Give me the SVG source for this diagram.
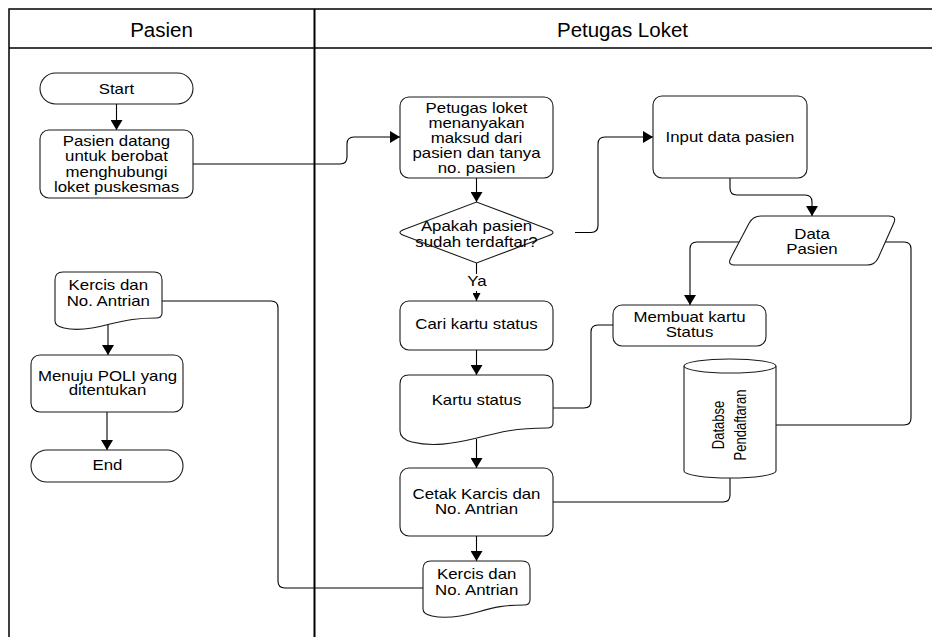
<svg xmlns="http://www.w3.org/2000/svg" width="932" height="637" viewBox="0 0 932 637">
<style>
.frame{fill:none;stroke:#000;stroke-width:1.5}
.div{fill:none;stroke:#000;stroke-width:2}
.shape{fill:#fff;stroke:#1a1a1a;stroke-width:1.1}
.conn{fill:none;stroke:#000;stroke-width:1.1}
.t{font-family:"Liberation Sans",Arial,sans-serif;font-size:14.5px;text-anchor:middle;fill:#000}
.h{font-family:"Liberation Sans",Arial,sans-serif;font-size:20.5px;text-anchor:middle;fill:#000}
.db{font-family:"Liberation Sans",Arial,sans-serif;font-size:13px;text-anchor:middle;fill:#000}
</style>
<defs>
<marker id="arr" viewBox="0 0 10 12" markerWidth="10" markerHeight="12" refX="10" refY="6" orient="auto" markerUnits="userSpaceOnUse"><path d="M0,0 L10,6 L0,12 Z" fill="#000"/></marker>
<marker id="arrs" viewBox="0 0 8 8" markerWidth="8" markerHeight="8" refX="8" refY="4" orient="auto" markerUnits="userSpaceOnUse"><path d="M0,0 L8,4 L0,8 Z" fill="#000"/></marker>
</defs>
<rect width="932" height="637" fill="#fff"/>
<g id="swimlanes">
<rect class="frame" x="9" y="9" width="940" height="650"/>
<line class="frame" x1="9" y1="48" x2="932" y2="48"/>
<line class="div" x1="314.5" y1="9" x2="314.5" y2="637"/>
<text class="h" x="161.5" y="36.5">Pasien</text>
<text class="h" x="622.5" y="36.5">Petugas Loket</text>
</g>
<g id="connectors">
<line class="conn" x1="116.5" y1="104" x2="116.5" y2="130" marker-end="url(#arr)"/>
<path class="conn" d="M193,164 H340 Q347,164 347,157 V144 Q347,137 354,137 H400" marker-end="url(#arr)"/>
<line class="conn" x1="476.5" y1="178" x2="476.5" y2="202" marker-end="url(#arr)"/>
<line class="conn" x1="476.5" y1="263" x2="476.5" y2="274"/>
<line class="conn" x1="476.5" y1="291" x2="476.5" y2="301" marker-end="url(#arrs)"/>
<path class="conn" d="M575,232.5 H591 Q598,232.5 598,225.5 V144 Q598,137 605,137 H653" marker-end="url(#arr)"/>
<path class="conn" d="M730,178 V188 Q730,195 737,195 H805 Q812,195 812,202 V216" marker-end="url(#arr)"/>
<path class="conn" d="M739,242 H697 Q690,242 690,249 V305" marker-end="url(#arr)"/>
<path class="conn" d="M885,242 H904 Q911,242 911,249 V418 Q911,425 904,425 H776"/>
<path class="conn" d="M613,325 H598 Q591,325 591,332 V401 Q591,408 584,408 H553"/>
<line class="conn" x1="476.5" y1="350" x2="476.5" y2="375" marker-end="url(#arr)"/>
<line class="conn" x1="476.5" y1="439" x2="476.5" y2="468" marker-end="url(#arr)"/>
<path class="conn" d="M730,478 V495 Q730,502 723,502 H553"/>
<line class="conn" x1="476.5" y1="536" x2="476.5" y2="561" marker-end="url(#arr)"/>
<path class="conn" d="M423,588 H285 Q278,588 278,581 V308 Q278,301 271,301 H162"/>
<line class="conn" x1="108" y1="323" x2="108" y2="355" marker-end="url(#arr)"/>
<line class="conn" x1="107" y1="412" x2="107" y2="450" marker-end="url(#arr)"/>
</g>
<g id="start">
<rect class="shape" x="40" y="73" width="153" height="31" rx="15.5"/>
<text class="t" transform="scale(1.16 1)" x="100.43" y="94">Start</text>
</g>
<g id="pasien_datang">
<rect class="shape" x="40" y="130" width="153" height="68" rx="9"/>
<text class="t" transform="scale(1.16 1)" x="100.43" y="146">Pasien datang</text>
<text class="t" transform="scale(1.16 1)" x="100.43" y="161.3">untuk berobat</text>
<text class="t" transform="scale(1.16 1)" x="100.43" y="176.6">menghubungi</text>
<text class="t" transform="scale(1.16 1)" x="100.43" y="192">loket puskesmas</text>
</g>
<g id="petugas_loket">
<rect class="shape" x="400" y="97" width="153" height="81" rx="9"/>
<text class="t" transform="scale(1.16 1)" x="410.78" y="113">Petugas loket</text>
<text class="t" transform="scale(1.16 1)" x="410.78" y="128">menanyakan</text>
<text class="t" transform="scale(1.16 1)" x="410.78" y="143">maksud dari</text>
<text class="t" transform="scale(1.16 1)" x="410.78" y="158">pasien dan tanya</text>
<text class="t" transform="scale(1.16 1)" x="410.78" y="173">no. pasien</text>
</g>
<g id="decision">
<path class="shape" d="M404,229.5 L476.5,202 L549,229.5 Q557,232.5 549,235.5 L476.5,263 L404,235.5 Q396,232.5 404,229.5 Z"/>
<text class="t" transform="scale(1.16 1)" x="410.78" y="231">Apakah pasien</text>
<text class="t" transform="scale(1.16 1)" x="410.78" y="247">sudah terdaftar?</text>
</g>
<g id="label_ya">
<text class="t" transform="scale(1.16 1)" x="411.2" y="286">Ya</text>
</g>
<g id="input_data">
<rect class="shape" x="653" y="96" width="154" height="82" rx="9"/>
<text class="t" transform="scale(1.16 1)" x="629.31" y="142">Input data pasien</text>
</g>
<g id="data_pasien">
<path class="shape" d="M761,216 H889 Q897,216 893.7,223.3 L878.3,257.7 Q875,265 867,265 H735 Q727,265 730.8,257.9 L749.2,223.1 Q753,216 761,216 Z"/>
<text class="t" transform="scale(1.16 1)" x="700" y="239">Data</text>
<text class="t" transform="scale(1.16 1)" x="700" y="254">Pasien</text>
</g>
<g id="membuat_kartu">
<rect class="shape" x="613" y="305" width="153" height="41" rx="9"/>
<text class="t" transform="scale(1.16 1)" x="594.4" y="322">Membuat kartu</text>
<text class="t" transform="scale(1.16 1)" x="594.4" y="337">Status</text>
</g>
<g id="database">
<path class="shape" d="M684,366 A46,7 0 0,1 776,366 V471 A46,7 0 0,1 684,471 Z"/>
<path class="shape" d="M684,366 A46,7 0 0,0 776,366" fill="none"/>
<g transform="translate(730,425) scale(1.25 1) rotate(-90)">
<text class="db" x="0" y="-4.5">Databse</text>
<text class="db" x="0" y="12.5">Pendaftaran</text>
</g>
</g>
<g id="cari_kartu">
<rect class="shape" x="400" y="301" width="153" height="49" rx="9"/>
<text class="t" transform="scale(1.16 1)" x="410.78" y="329">Cari kartu status</text>
</g>
<g id="kartu_status">
<path class="shape" d="M400,384 Q400,375 409,375 H544 Q553,375 553,384 V423 Q553,428 547,428 C515,428 500,432 477,438 C452,444 432,447 412,442 Q400,439 400,431 Z"/>
<text class="t" transform="scale(1.16 1)" x="410.78" y="405">Kartu status</text>
</g>
<g id="cetak_karcis">
<rect class="shape" x="400" y="468" width="153" height="68" rx="9"/>
<text class="t" transform="scale(1.16 1)" x="410.78" y="499">Cetak Karcis dan</text>
<text class="t" transform="scale(1.16 1)" x="410.78" y="514">No. Antrian</text>
</g>
<g id="kercis_petugas">
<path class="shape" d="M423,569 Q423,561 431,561 H522 Q530,561 530,569 V600 Q530,605 524,605 C505,605 495,607 478,612 C460,617 445,619 432,616 Q423,614 423,609 Z"/>
<text class="t" transform="scale(1.16 1)" x="410.95" y="579">Kercis dan</text>
<text class="t" transform="scale(1.16 1)" x="410.95" y="595">No. Antrian</text>
</g>
<g id="kercis_pasien">
<path class="shape" d="M55,280 Q55,272 63,272 H154 Q162,272 162,280 V313 Q162,318 156,318 C137,318 127,320 110,324 C92,329 77,331 64,328 Q55,326 55,321 Z"/>
<text class="t" transform="scale(1.16 1)" x="93.36" y="290">Kercis dan</text>
<text class="t" transform="scale(1.16 1)" x="93.36" y="306.5">No. Antrian</text>
</g>
<g id="menuju_poli">
<rect class="shape" x="31" y="355" width="152" height="57" rx="9"/>
<text class="t" transform="scale(1.16 1)" x="92.67" y="381.5">Menuju POLI yang</text>
<text class="t" transform="scale(1.16 1)" x="92.67" y="395.5">ditentukan</text>
</g>
<g id="end">
<rect class="shape" x="31" y="450" width="152" height="32" rx="16"/>
<text class="t" transform="scale(1.16 1)" x="92.67" y="470">End</text>
</g>
</svg>
